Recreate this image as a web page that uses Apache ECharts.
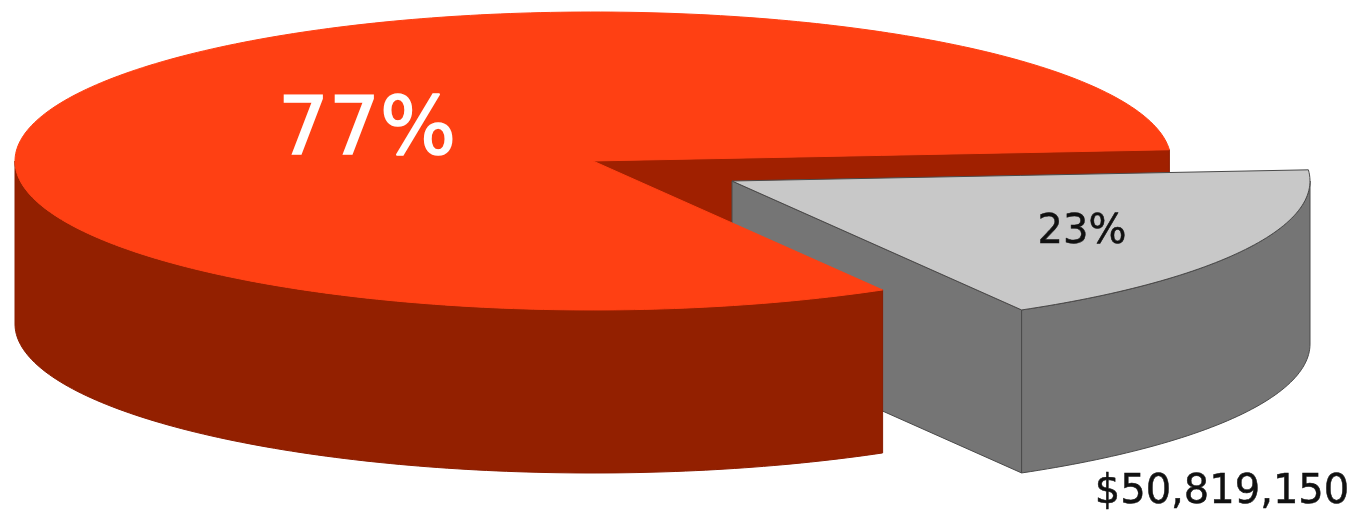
<!DOCTYPE html>
<html>
<head>
<meta charset="utf-8">
<style>
  html, body { margin: 0; padding: 0; background: #ffffff; }
  #chart { width: 1357px; height: 512px; }
</style>
<script src="https://cdn.jsdelivr.net/npm/echarts@6/dist/echarts.min.js"></script>
</head>
<body>
<div id="chart"></div>
<script>
// Slice shares in percent, in drawing order around the disc.
const sliceShares = [77, 23];
const amountLabel = '$50,819,150';

const topColors = ['#ff4013', '#c8c8c8'];
const wallColors = ['#932000', '#757575'];
const edgeColors = ['#8a1c00', '#4a4a4a'];
const labelColors = ['#ffffff', '#111111'];
const labelFontSizes = [80, 40];
const labelWeights = [1.6, 0.5];

// Disc projection: centre, radii, extrusion depth, and the pull-out of the small slice.
const disc = { cx: 593, cy: 161, rx: 578, ry: 149, depth: 163 };
const sliceOffsets = [[0, 0], [139, 20]];
const labelAnchors = [[367, 133], [1082, 233]];
const amountAnchor = [1222, 493];
const firstSliceStart = 74.1;   // degrees, clockwise on screen
const planeSquash = 0.492;      // extra foreshortening of the disc plane

const rad = Math.PI / 180;

// Turns an angle in the disc plane into the ellipse parameter on screen.
function screenAngle(deg) {
  const turns = Math.floor((deg + 180) / 360);
  const rest = deg - turns * 360;
  return Math.atan2(planeSquash * Math.sin(rest * rad), Math.cos(rest * rad)) / rad + turns * 360;
}

function rim(off, t, drop) {
  return [
    disc.cx + off[0] + disc.rx * Math.cos(t * rad),
    disc.cy + off[1] + disc.ry * Math.sin(t * rad) + (drop || 0)
  ];
}

function arc(off, from, to, drop) {
  const pts = [];
  const n = Math.max(2, Math.ceil(Math.abs(to - from)));
  for (let i = 0; i <= n; i++) pts.push(rim(off, from + (to - from) * i / n, drop));
  return pts;
}

// Start and end of a slice as ellipse parameters; a slice past the back of the
// disc is unwrapped so its front part falls inside 0..180.
function sliceSpan(index) {
  const total = sliceShares.reduce((a, b) => a + b, 0);
  let start = firstSliceStart;
  for (let i = 0; i < index; i++) start += sliceShares[i] / total * 360;
  const end = start + sliceShares[index] / total * 360;
  const a = screenAngle(start);
  const b = screenAngle(end);
  return a > 180 ? [a - 360, b - 360] : [a, b];
}

function polygon(points, fill, stroke, z2) {
  return {
    type: 'polygon',
    shape: { points: points },
    style: { fill: fill, stroke: stroke, lineWidth: 1, lineJoin: 'round' },
    z2: z2,
    silent: true
  };
}

function label(text, at, size, color, weight) {
  return {
    type: 'text',
    style: {
      text: text, x: at[0], y: at[1],
      fill: color,
      stroke: color,
      lineWidth: weight,
      font: size + 'px "DejaVu Sans"',
      textAlign: 'center',
      textVerticalAlign: 'middle'
    },
    z2: 20,
    silent: true
  };
}

function renderSlice(params, api) {
  const i = params.dataIndex;
  const share = api.value(0);
  const off = sliceOffsets[i];
  const span = sliceSpan(i);
  const apex = [disc.cx + off[0], disc.cy + off[1]];
  const top = arc(off, span[0], span[1]);
  const isSmall = i === 1;
  const children = [];

  // Radial wall along the trailing cut of the slice.
  const cutRim = rim(off, span[1]);
  children.push(polygon(
    [apex, cutRim, [cutRim[0], cutRim[1] + disc.depth], [apex[0], apex[1] + disc.depth]],
    i === 0 ? '#a02000' : wallColors[i], edgeColors[i], isSmall ? 3 : 1
  ));

  // Outer wall: only the part of the rim turned towards the viewer.
  const wallFrom = Math.max(span[0], 0);
  const wallTo = Math.min(span[1], 180);
  const outer = arc(off, wallFrom, wallTo).concat(arc(off, wallTo, wallFrom, disc.depth));
  children.push(polygon(outer, wallColors[i], edgeColors[i], isSmall ? 3 : 5));

  // Top face.
  children.push(polygon([apex].concat(top), topColors[i],
    isSmall ? edgeColors[i] : topColors[i], isSmall ? 4 : 6));

  children.push(label(share + '%', labelAnchors[i], labelFontSizes[i], labelColors[i], labelWeights[i]));
  if (isSmall) children.push(label(amountLabel, amountAnchor, 40, '#111111', 0.5));

  return { type: 'group', children: children };
}

const chart = echarts.init(document.getElementById('chart'), null, { renderer: 'canvas' });
chart.setOption({
  animation: false,
  backgroundColor: '#ffffff',
  series: [{
    type: 'custom',
    coordinateSystem: 'none',
    renderItem: renderSlice,
    data: sliceShares.map(v => [v]),
    silent: true
  }]
});
</script>
</body>
</html>
